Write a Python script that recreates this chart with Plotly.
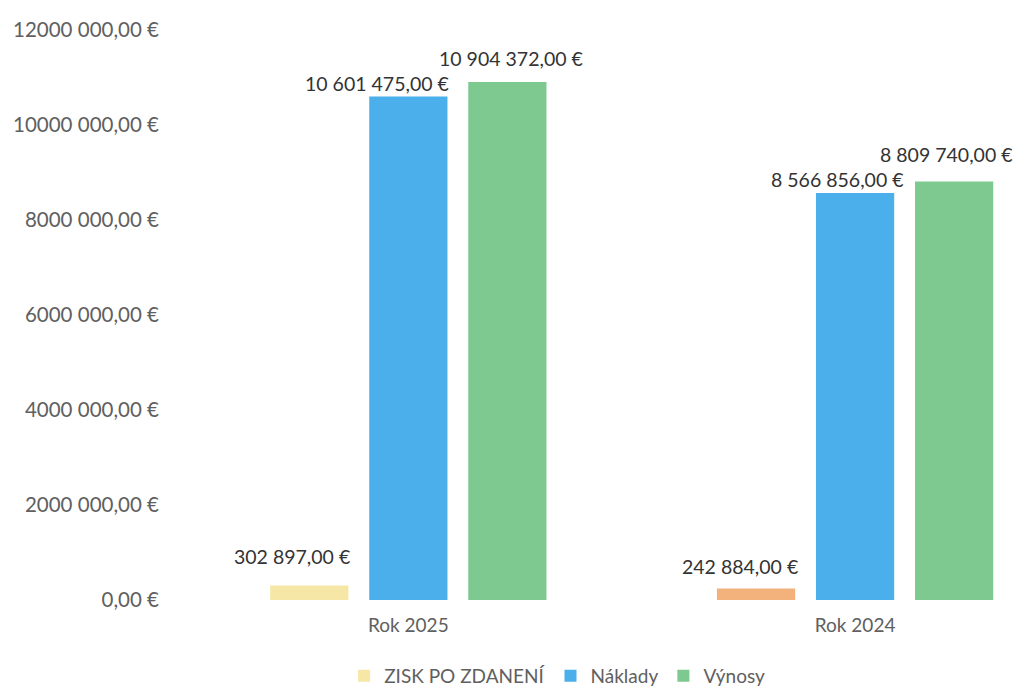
import plotly.graph_objects as go

categories = ["Rok 2025", "Rok 2024"]
zisk = [302897, 242884]
naklady = [10601475, 8566856]
vynosy = [10904372, 8809740]
tick_vals = [0, 2000000, 4000000, 6000000, 8000000, 10000000, 12000000]
tick_text = ["0,00 €", "2000 000,00 €", "4000 000,00 €", "6000 000,00 €",
             "8000 000,00 €", "10000 000,00 €", "12000 000,00 €"]

# label pixel offsets (style only): per series, per category (dx, dy above bar top)
label_shift = {
    "ZISK PO ZDANENÍ": [(-17, 29), (-16, 22)],
    "Náklady": [(-31, 13), (-18, 14)],
    "Výnosy": [(4, 24), (-8, 27)],
}


def fmt(v):
    s = f"{v:,.2f}".replace(",", " ").replace(".", ",")
    return s + " €"


FONT = "Lato"
BARGAP = 0.335
fig = go.Figure()
series = [
    ("ZISK PO ZDANENÍ", zisk, ["#F6E7A6", "#F3B27C"]),
    ("Náklady", naklady, ["#4AAFEA", "#4AAFEA"]),
    ("Výnosy", vynosy, ["#7EC990", "#7EC990"]),
]
slot = (1 - BARGAP) / len(series)
annotations = []
for k, (name, vals, cols) in enumerate(series):
    fig.add_trace(go.Bar(
        name=name, x=categories, y=vals,
        marker=dict(color=cols, line=dict(width=0)),
        hoverinfo="name+y",
    ))
    for i, v in enumerate(vals):
        dx, dy = label_shift[name][i]
        annotations.append(dict(
            x=i + (k - 1) * slot, y=v, xref="x", yref="y",
            text=fmt(v), showarrow=False, xanchor="center", yanchor="middle",
            xshift=dx, yshift=dy,
            font=dict(family=FONT, size=19.5, color="#333333"),
        ))

fig.update_layout(
    width=1024, height=687,
    margin=dict(l=185, r=0, t=22, b=87),
    paper_bgcolor="white", plot_bgcolor="white",
    barmode="group", bargap=BARGAP, bargroupgap=0.21,
    font=dict(family=FONT, size=19, color="#606060"),
    annotations=annotations,
    legend=dict(orientation="h", x=0.434, xanchor="center", y=-0.133, yanchor="middle",
                font=dict(family=FONT, size=19, color="#606060"), itemwidth=30,
                traceorder="normal"),
    xaxis=dict(range=[-0.482, 1.396], showgrid=False, showline=False, ticks="",
               ticklabelstandoff=12,
               tickfont=dict(family=FONT, size=19, color="#606060")),
    yaxis=dict(range=[0, 12000000], tickvals=tick_vals, ticktext=tick_text,
               showgrid=False, zeroline=False, showline=False, ticks="",
               ticklabelstandoff=33,
               tickfont=dict(family=FONT, size=20.5, color="#606060")),
)
fig.write_html("out.html")
